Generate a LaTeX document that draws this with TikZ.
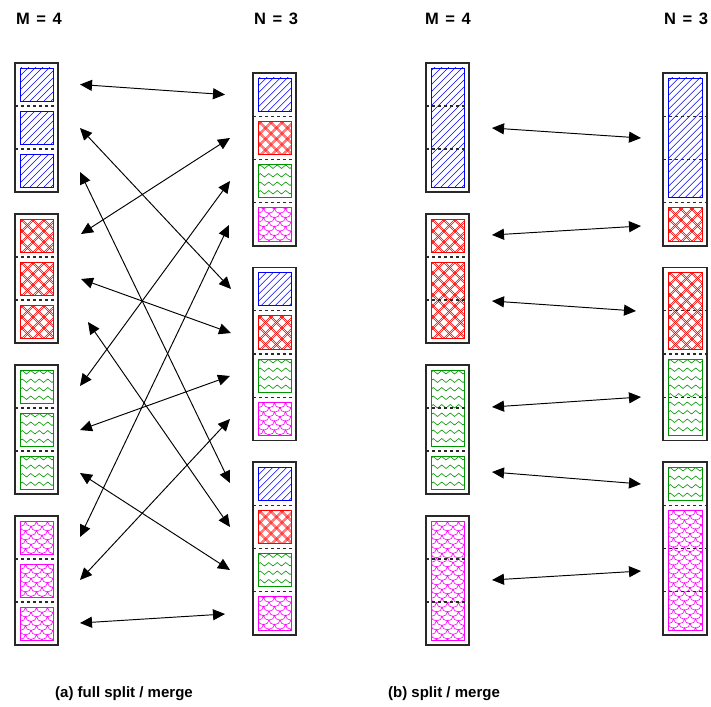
\documentclass[tikz,border=0pt]{standalone}
\usepackage{fontspec}
\setmainfont{Liberation Sans}
\usetikzlibrary{arrows.meta}
\definecolor{cBlue}{RGB}{0,0,255}
\definecolor{cRed}{RGB}{255,0,0}
\definecolor{cGreen}{RGB}{0,150,0}
\definecolor{cMag}{RGB}{255,0,255}
\definecolor{frame}{RGB}{40,40,40}

\newcommand\patBlue[4]{%
  \begin{scope}
    \clip (#1,#2) rectangle (#3,#4);
    \foreach \k in {0,...,26}{\draw[cBlue,pat] ({#1-130+\k*7},#4) -- ++(130,-130);}
  \end{scope}
  \draw[cBlue,bord] (#1,#2) rectangle (#3,#4);}
\newcommand\patRed[4]{%
  \begin{scope}
    \clip (#1,#2) rectangle (#3,#4);
    \foreach \k in {0,...,17}{%
      \draw[cRed,patthin] ({#1-130+\k*11},#4) -- ++(130,-130);
      \draw[cRed,patthin] ({#1-128+\k*11},#4) -- ++(130,-130);
      \draw[cRed,patthin] ({#1+\k*11},#4) -- ++(-130,-130);
      \draw[cRed,patthin] ({#1+2+\k*11},#4) -- ++(-130,-130);}
  \end{scope}
  \draw[cRed,bord] (#1,#2) rectangle (#3,#4);}
\newcommand\patGreen[4]{%
  \begin{scope}
    \clip (#1,#2) rectangle (#3,#4);
    \foreach \r in {0,...,16}{\draw[cGreen,pat] ({#1-2},{#2+4+\r*8.5}) \foreach \t in {1,...,5}{-- ++(4.25,-3.5) -- ++(4.25,3.5)};}
  \end{scope}
  \draw[cGreen,bord] (#1,#2) rectangle (#3,#4);}
\newcommand\patMag[4]{%
  \begin{scope}
    \clip (#1,#2) rectangle (#3,#4);
    \foreach \r in {0,...,30}{%
      \pgfmathsetmacro\off{mod(\r,2)*5.5}
      \draw[cMag,pat] ({#1-11+\off},{#2-4+\r*4.5}) \foreach \t in {1,...,5}{arc[start angle=180,end angle=0,x radius=5.5,y radius=5]};}
  \end{scope}
  \draw[cMag,bord] (#1,#2) rectangle (#3,#4);}

\begin{document}
\begin{tikzpicture}[x=1pt,y=-1pt,
  pat/.style={line width=0.6pt},
  patthin/.style={line width=0.45pt},
  bord/.style={line width=0.9pt},
  outer/.style={draw=frame,line width=1.1pt,minimum width=43pt,inner sep=0pt,outer sep=0pt,anchor=north west},
  sepl/.style={draw=frame,line width=1.1pt,dash pattern=on 3pt off 3pt},
  arr/.style={{Triangle[length=12pt,width=11pt]}-{Triangle[length=12pt,width=11pt]},line width=0.95pt},
  lbl/.style={font=\bfseries\fontsize{15}{18}\selectfont,inner sep=0pt},
  ttl/.style={font=\bfseries\fontsize{16.5}{19}\selectfont,inner sep=0pt}]
\fill[white] (0,0) rectangle (711,706);
\useasboundingbox (0,0) rectangle (711,706);

% titles and captions
\node[ttl] (t1) at (39,19) {M\hspace{0.4em}=\hspace{0.4em}4};
\node[ttl] (t2) at (276,19) {N\hspace{0.4em}=\hspace{0.4em}3};
\node[ttl] (t3) at (448,19) {M\hspace{0.4em}=\hspace{0.4em}4};
\node[ttl] (t4) at (686,19) {N\hspace{0.4em}=\hspace{0.4em}3};
\node[lbl] (c1) at (124,694) {(a) full split / merge};
\node[lbl] (c2) at (444,694) {(b) split / merge};

% ---------- (a) left column ----------
\foreach \g/\c in {0/Blue,1/Red,2/Green,3/Mag}{
  \pgfmathsetmacro\tp{63+151*\g}
  \node[outer,minimum height=129pt] (aL\g) at (15,\tp) {};
  \foreach \i in {0,1,2}{\csname pat\c\endcsname{20}{\tp+43*\i+5}{53}{\tp+43*\i+38}}
  \draw[sepl] (15,\tp+43) -- (58,\tp+43);
  \draw[sepl] (15,\tp+86) -- (58,\tp+86);
}
% ---------- (a) right column ----------
\foreach \g in {0,1,2}{
  \pgfmathsetmacro\tp{73+194.5*\g}
  \node[outer,minimum height=173pt] (aR\g) at (253,\tp) {};
  \foreach \i/\c in {0/Blue,1/Red,2/Green,3/Mag}{\csname pat\c\endcsname{258}{\tp+43.25*\i+5}{291}{\tp+43.25*\i+38.25}}
  \foreach \i in {1,2,3}{\draw[sepl] (253,\tp+43.25*\i) -- (296,\tp+43.25*\i);}
}

% ---------- (b) left column ----------
\node[outer,minimum height=129pt] (bL0) at (426,63) {};
\patBlue{431}{68}{464}{187}
\node[outer,minimum height=129pt] (bL1) at (426,214) {};
\patRed{431}{219}{464}{252}
\patRed{431}{262}{464}{338}
\node[outer,minimum height=129pt] (bL2) at (426,365) {};
\patGreen{431}{370}{464}{446}
\patGreen{431}{456}{464}{489}
\node[outer,minimum height=129pt] (bL3) at (426,516) {};
\patMag{431}{521}{464}{640}
\foreach \y in {106,149,257,300,408,451,559,602}{\draw[sepl] (426,\y) -- (469,\y);}

% ---------- (b) right column ----------
\node[outer,minimum height=173pt,minimum width=44pt] (bR0) at (663,73) {};
\patBlue{668}{78}{702}{197.75}
\patRed{668}{207.75}{702}{241}
\node[outer,minimum height=173pt,minimum width=44pt] (bR1) at (663,267.5) {};
\patRed{668}{272.5}{702}{349}
\patGreen{668}{359}{702}{435.5}
\node[outer,minimum height=173pt,minimum width=44pt] (bR2) at (663,462) {};
\patGreen{668}{467}{702}{500.25}
\patMag{668}{510.25}{702}{630}
\foreach \y in {116.25,159.5,202.75,310.75,354,397.25,505.25,548.5,591.75}{\draw[sepl] (663,\y) -- (707,\y);}

% ---------- (a) arrows ----------
\coordinate (p1a) at (80,84.5);  \coordinate (p1b) at (225,94.6);
\coordinate (p2a) at (80,128);   \coordinate (p2b) at (231,289);
\coordinate (p3a) at (80,172);   \coordinate (p3b) at (230,483);
\coordinate (p4a) at (81,234);   \coordinate (p4b) at (230,138);
\coordinate (p5a) at (81,279);   \coordinate (p5b) at (231,333);
\coordinate (p6a) at (88,322);   \coordinate (p6b) at (230,527);
\coordinate (p7a) at (80,386);   \coordinate (p7b) at (230,181);
\coordinate (p8a) at (80,430);   \coordinate (p8b) at (230,376);
\coordinate (p9a) at (80,473);   \coordinate (p9b) at (230,570);
\coordinate (p10a) at (80,537);  \coordinate (p10b) at (229,225);
\coordinate (p11a) at (80,580);  \coordinate (p11b) at (230,419);
\coordinate (p12a) at (80,623);  \coordinate (p12b) at (225,614);
\foreach \n in {1,...,12}{\draw[arr] (p\n a) -- (p\n b);}

% ---------- (b) arrows ----------
\coordinate (q1a) at (492,128);  \coordinate (q1b) at (641,138);
\coordinate (q2a) at (492,235);  \coordinate (q2b) at (641,226);
\coordinate (q3a) at (492,301);  \coordinate (q3b) at (636,311);
\coordinate (q4a) at (492,407);  \coordinate (q4b) at (641,397);
\coordinate (q5a) at (492,472);  \coordinate (q5b) at (641,484);
\coordinate (q6a) at (492,580);  \coordinate (q6b) at (641,571);
\foreach \n in {1,...,6}{\draw[arr] (q\n a) -- (q\n b);}
\end{tikzpicture}
\end{document}
